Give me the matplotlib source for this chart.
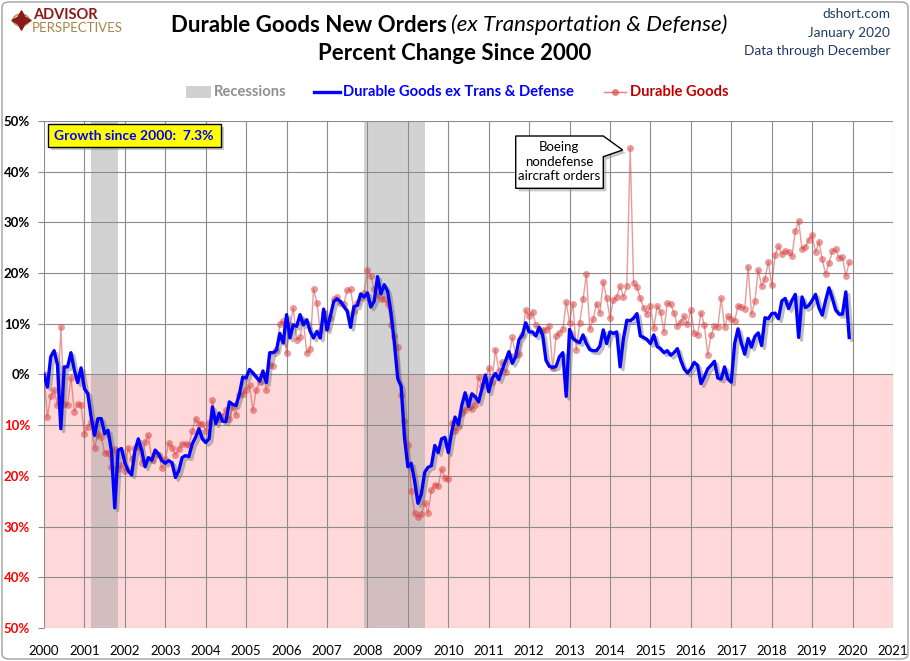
import numpy as np
import matplotlib
matplotlib.use('Agg')
import matplotlib.pyplot as plt
import matplotlib.patheffects as pe
from matplotlib.patches import Rectangle, Polygon, FancyBboxPatch, Circle
from matplotlib.lines import Line2D

plt.rcParams['font.family'] = ['Lato', 'DejaVu Sans']

# monthly % change since Jan 2000, Jan 2000 .. Dec 2019
ex_trans = [
    0.0, -2.5, 3.5, 4.7, 1.9, -10.7, 1.5, 1.5, 4.3, 0.9, -1.6, 1.3,
    -2.8, -3.8, -8.4, -12.0, -8.7, -8.7, -11.7, -11.0, -15.0, -26.3, -14.9, -14.6,
    -17.4, -19.0, -19.8, -15.0, -12.7, -15.0, -18.2, -16.4, -16.9, -14.9, -15.7, -17.0,
    -17.5, -17.0, -17.4, -20.3, -19.0, -16.4, -16.0, -16.2, -13.7, -12.4, -10.7, -12.7,
    -13.4, -12.7, -6.4, -9.7, -7.6, -9.2, -9.3, -5.4, -5.9, -6.1, -3.9, -0.5,
    -0.7, 1.0, 0.3, -0.5, -1.3, 0.7, -1.6, 4.3, 4.3, 4.8, 8.1, 6.2,
    11.8, 7.2, 9.8, 9.5, 11.8, 9.8, 10.8, 8.5, 7.2, 8.5, 7.2, 12.9,
    8.8, 11.5, 14.4, 14.9, 14.4, 13.4, 12.5, 9.3, 13.4, 13.6, 15.9, 15.3,
    16.1, 13.3, 14.4, 19.3, 15.9, 17.7, 16.4, 12.1, 6.2, -0.8, -2.3, -12.4,
    -18.2, -17.5, -21.0, -25.4, -23.6, -19.3, -18.3, -18.0, -14.0, -15.4, -12.7, -12.4,
    -15.4, -11.4, -8.4, -9.9, -6.1, -3.6, -6.3, -3.8, -4.4, -5.4, -2.8, -0.1,
    -3.4, -0.8, 0.2, -1.0, 0.9, 2.7, 4.5, 2.2, 3.5, 6.9, 7.8, 10.2,
    8.4, 8.4, 7.6, 9.3, 7.8, 2.8, 1.6, 1.4, 1.6, 3.5, 4.3, -4.3,
    8.9, 7.1, 6.6, 6.3, 7.8, 6.1, 4.9, 4.7, 4.7, 5.6, 8.8, 6.1,
    8.4, 8.1, 8.4, 1.5, 7.1, 10.7, 10.6, 11.1, 12.0, 7.6, 7.3, 6.9,
    6.1, 7.8, 5.5, 5.1, 4.3, 4.7, 3.8, 4.3, 5.1, 2.8, 1.1, 0.3,
    1.1, 2.4, 1.8, -1.8, -0.5, 1.1, 1.8, 2.6, -0.7, -0.9, 1.5, -0.9,
    -1.5, 6.1, 9.0, 6.1, 4.0, 7.1, 5.4, 7.5, 8.2, 5.7, 11.2, 11.0,
    12.0, 12.1, 11.0, 14.5, 15.0, 13.0, 14.6, 15.8, 7.3, 15.3, 13.2, 13.6,
    14.6, 15.8, 13.2, 11.7, 14.6, 17.1, 15.0, 12.7, 11.9, 11.9, 16.3, 7.3,
]

durable = [
    0.0, -8.4, -4.3, -3.0, -6.1, 9.3, -5.9, -6.1, -0.6, -7.3, -5.8, -6.1,
    -11.7, -10.4, -9.4, -14.5, -11.7, -12.4, -15.4, -15.4, -18.3, -14.6, -18.7, -17.8,
    -19.0, -14.4, -16.7, -14.4, -14.2, -17.4, -13.4, -11.9, -16.9, -15.6, -15.8, -18.5,
    -16.7, -13.5, -14.4, -15.8, -14.7, -13.7, -13.7, -13.9, -11.2, -8.7, -9.7, -9.7,
    -11.1, -9.6, -5.1, -8.7, -8.7, -8.1, -7.1, -8.7, -6.4, -7.9, -4.1, -3.8,
    -3.0, -2.1, -7.1, -3.0, -1.5, -0.1, -3.0, 1.9, 1.6, 4.8, 10.0, 10.5,
    4.2, 9.8, 13.1, 6.8, 7.4, 10.5, 4.2, 5.0, 16.9, 14.2, 8.5, 12.1,
    9.1, 11.1, 14.8, 15.3, 14.1, 14.0, 16.6, 16.8, 12.5, 14.1, 15.1, 16.1,
    20.7, 19.4, 16.9, 15.6, 14.9, 14.9, 14.0, 9.8, 7.6, 5.4, -4.1, -9.1,
    -14.0, -23.0, -27.3, -28.1, -27.6, -25.3, -27.3, -22.8, -21.7, -22.0, -18.7, -20.5,
    -20.7, -9.6, -11.1, -10.4, -7.6, -7.1, -6.4, -6.8, -6.1, -0.5, -2.3, -1.1,
    1.2, -1.4, 4.9, 0.7, 2.5, 0.4, 3.6, 7.3, 3.8, 4.0, 7.8, 12.7,
    11.5, 12.4, 9.7, 8.8, 8.8, 8.8, 9.5, 1.2, 7.6, 8.2, 8.9, 14.3,
    10.2, 14.0, 4.8, 10.2, 14.8, 19.8, 8.9, 10.9, 14.0, 12.2, 18.3, 15.0,
    11.1, 14.7, 15.3, 17.4, 15.3, 17.4, 44.6, 18.0, 17.3, 15.0, 13.2, 12.0,
    13.5, 9.1, 13.5, 12.4, 8.4, 14.1, 13.9, 12.2, 9.5, 10.4, 11.5, 9.9,
    12.7, 8.2, 7.8, 12.2, 9.8, 3.9, 7.8, 9.5, 9.4, 15.0, 9.4, 11.5,
    11.0, 10.5, 13.6, 13.4, 13.0, 21.2, 11.9, 14.4, 20.7, 17.4, 18.9, 22.2,
    17.6, 23.5, 25.3, 23.7, 24.4, 24.2, 23.3, 28.3, 30.3, 24.7, 25.2, 26.6,
    27.5, 24.1, 26.2, 22.7, 19.8, 21.9, 24.4, 24.7, 23.0, 23.1, 19.4, 22.1,
]

recessions = [(2001 + 2/12, 2001 + 10/12), (2007 + 11/12, 2009 + 5/12)]
years = list(range(2000, 2022))
yticks = list(range(-50, 51, 10))

W, H = 910, 661
def fx(px):
    return px / W
def fy(py):
    return 1 - py / H

t = 2000 + np.arange(len(ex_trans)) / 12.0

fig = plt.figure(figsize=(9.1, 6.61), dpi=100)
ax = fig.add_axes([fx(44), fy(628), (893 - 44) / W, (628 - 121) / H])

ax.axhspan(-50, 0, color='#FFD9D9', zorder=0, lw=0)
for a, b in recessions:
    ax.axvspan(a, b, color='#A0A0A0', alpha=0.47, lw=0, zorder=1)

ax.set_xlim(2000, 2021)
ax.set_ylim(-50, 50)
ax.set_xticks(years)
ax.set_xticklabels([str(y) for y in years], fontsize=9.5)
ax.set_yticks(yticks)
ax.set_yticklabels(['%d%%' % abs(v) for v in yticks], fontsize=9.5, fontweight='bold')
for lab, v in zip(ax.get_yticklabels(), yticks):
    lab.set_color('red' if v < 0 else 'black')
ax.grid(True, color='#8C8C8C', lw=0.8, zorder=2)
ax.set_axisbelow(False)
for s in ax.spines.values():
    s.set_visible(False)
ax.tick_params(axis='y', length=4, color='#8C8C8C', pad=6)
ax.tick_params(axis='x', length=0, pad=12)

ax.plot(t, durable, color='#D84848', lw=1, alpha=0.55, marker='o',
        markersize=5, markeredgewidth=0, zorder=3)
ax.plot(t, ex_trans, color='#0000FF', lw=2.4, zorder=4,
        path_effects=[pe.SimpleLineShadow(offset=(2, -2), shadow_color='#606060', alpha=0.4),
                      pe.Normal()])

# title block
fig.text(fx(447), fy(25), 'Durable Goods New Orders', ha='right', va='center',
         fontsize=16, fontweight='bold')
fig.text(fx(451), fy(25), '(ex Transportation & Defense)', ha='left', va='center',
         fontsize=16, style='italic')
fig.text(fx(455), fy(53), 'Percent Change Since 2000', ha='center', va='center',
         fontsize=16, fontweight='bold')

navy = '#1F3A68'
fig.text(fx(890), fy(14), 'dshort.com', ha='right', va='center', fontsize=9.8, color=navy)
fig.text(fx(890), fy(33), 'January 2020', ha='right', va='center', fontsize=9.8, color=navy)
fig.text(fx(890), fy(51), 'Data through December', ha='right', va='center', fontsize=9.8, color=navy)

# logo
fig.add_artist(Circle((fx(21), fy(20)), 8 / W, transform=fig.transFigure,
                      fc='none', ec='#B8965A', lw=1.2))
fig.add_artist(Line2D([fx(21)], [fy(20)], marker=(4, 1, 0), markersize=14,
                      color='#8B1A1A', transform=fig.transFigure))
fig.text(fx(33), fy(15), 'ADVISOR', ha='left', va='center', fontsize=10.5,
         fontweight='bold', color='#8B1A1A')
fig.text(fx(32), fy(28), 'PERSPECTIVES', ha='left', va='center', fontsize=9.5,
         color='#A8864A')

# legend row
fig.add_artist(Rectangle((fx(186), fy(98)), 25 / W, 12 / H, transform=fig.transFigure,
                         fc='#D0D0D0', ec='none'))
fig.text(fx(214), fy(92), 'Recessions', ha='left', va='center', fontsize=10.6,
         fontweight='bold', color='#909090')
fig.add_artist(Line2D([fx(314), fx(340)], [fy(92), fy(92)], color='#0000FF', lw=2.4,
                      transform=fig.transFigure))
fig.text(fx(343), fy(92), 'Durable Goods ex Trans & Defense', ha='left', va='center',
         fontsize=10.6, fontweight='bold', color='#0000FF')
fig.add_artist(Line2D([fx(604), fx(626)], [fy(92), fy(92)], color='#D84848', lw=1,
                      alpha=0.7, transform=fig.transFigure))
fig.add_artist(Line2D([fx(615)], [fy(92)], marker='o', markersize=5, color='#D84848',
                      alpha=0.7, markeredgewidth=0, transform=fig.transFigure))
fig.text(fx(630), fy(92), 'Durable Goods', ha='left', va='center', fontsize=10.6,
         fontweight='bold', color='#C00000')

# growth box
fig.add_artist(Rectangle((fx(51), fy(150)), 173 / W, 23 / H, transform=fig.transFigure,
                         fc='#909090', ec='none', alpha=0.5, zorder=5))
fig.add_artist(Rectangle((fx(48), fy(147)), 173 / W, 23 / H, transform=fig.transFigure,
                         fc='#FFFF00', ec='black', lw=1, zorder=6))
fig.text(fx(54), fy(136), 'Growth since 2000:  %.1f%%' % ex_trans[-1], ha='left',
         va='center', fontsize=10, fontweight='bold', color='#0000FF', zorder=7)

# Boeing callout
pts = [(515.7, 136), (603.3, 136), (622.7, 150), (603.3, 156.7), (603.3, 188.3), (515.7, 188.3)]
shadow = [(fx(x + 3), fy(y + 3)) for x, y in pts]
fig.add_artist(Polygon(shadow, closed=True, transform=fig.transFigure, fc='#909090',
                       ec='none', alpha=0.5, zorder=5))
fig.add_artist(Polygon([(fx(x), fy(y)) for x, y in pts], closed=True,
                       transform=fig.transFigure, fc='white', ec='black', lw=1, zorder=6))
fig.text(fx(559), fy(162), 'Boeing\nnondefense\naircraft orders', ha='center', va='center',
         fontsize=9.5, linespacing=1.25, zorder=7)

# outer frame
fig.add_artist(FancyBboxPatch((fx(2), fy(659)), 906 / W, 657 / H,
                              boxstyle='round,pad=0,rounding_size=0.008',
                              transform=fig.transFigure, fc='none', ec='#A0A0A0', lw=1))

fig.savefig('out.png', dpi=100)
